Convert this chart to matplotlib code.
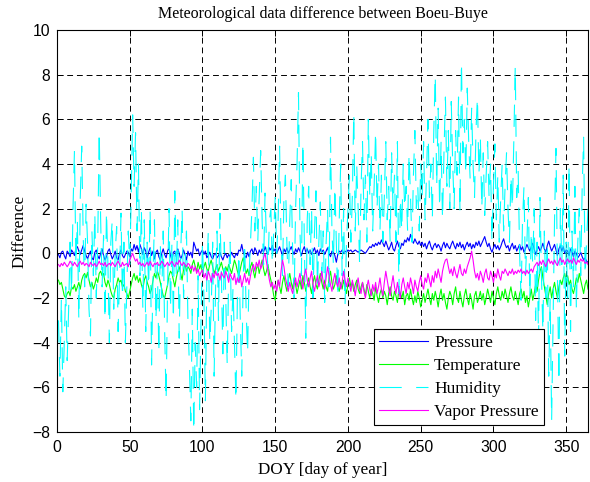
"""
Diferencia de datos meteorologicos entre Boeu y Buye (estilo MATLAB)
"""

import numpy as np
from matplotlib import pyplot as plt

# Diferencias diarias (Boeu - Buye), dias 1..365
pressure = [
    -0.05, -0.2, 0.05, 0.1, -0.1, -0.25, 0.1, 0.0, -0.15, 0.15,
    0.05, -0.1, 0.2, 0.3, 0.1, -0.05, 0.15, 0.35, 0.1, -0.1,
    -0.25, -0.05, 0.1, -0.2, -0.3, 0.05, 0.15, -0.1, -0.25, 0.0,
    0.2, -0.1, -0.3, -0.15, 0.1, 0.2, -0.05, -0.25, -0.1, 0.1,
    -0.2, -0.3, 0.0, 0.15, -0.1, -0.2, -0.05, 0.1, 0.05, -0.15,
    0.2, 0.1, 0.4, 0.15, 0.35, 0.05, 0.4, 0.2, -0.05, 0.25,
    0.1, -0.2, 0.05, 0.25, -0.1, 0.1, -0.25, 0.05, 0.15, -0.15,
    -0.3, 0.0, 0.2, -0.05, -0.2, 0.1, 0.25, -0.1, -0.3, 0.05,
    0.1, -0.15, 0.2, 0.0, -0.25, -0.1, 0.15, -0.05, -0.3, 0.1,
    -0.1, 0.05, -0.2, 0.5, 0.3, 0.1, 0.2, -0.1, 0.05, 0.15,
    -0.05, 0.1, -0.2, -0.1, 0.05, -0.15, -0.25, -0.05, 0.0, -0.2,
    -0.1, 0.05, -0.15, -0.3, -0.1, 0.0, -0.2, -0.05, -0.15, 0.05,
    -0.1, -0.2, 0.0, -0.1, 0.15, 0.1, 0.4, 0.05, -0.1, -0.2,
    0.05, -0.15, 0.1, 0.2, -0.05, 0.25, 0.1, -0.1, 0.15, 0.0,
    0.2, 0.05, 0.3, 0.1, -0.05, 0.25, 0.15, 0.35, 0.1, 0.2,
    0.0, 0.15, 0.3, 0.1, -0.1, 0.2, 0.05, 0.25, 0.0, 0.15,
    0.3, 0.1, -0.05, 0.2, 0.05, 0.25, 0.1, -0.1, 0.15, 0.3,
    0.05, 0.2, 0.0, 0.15, -0.05, 0.1, 0.25, 0.0, 0.15, -0.1,
    0.2, 0.05, 0.15, -0.05, 0.1, 0.25, 0.0, -0.15, 0.1, 0.05,
    -0.1, -0.4, -0.05, 0.1, 0.05, 0.15, 0.0, 0.1, 0.05, 0.15,
    0.1, 0.15, 0.05, 0.1, 0.15, 0.1, 0.05, 0.1, 0.15, 0.1,
    0.05, 0.0, 0.1, 0.2, 0.3, 0.25, 0.4, 0.3, 0.45, 0.35,
    0.5, 0.4, 0.6, 0.45, 0.3, 0.55, 0.35, 0.15, 0.3, 0.5,
    0.2, 0.1, 0.35, 0.55, 0.3, 0.2, 0.45, 0.35, 0.6, 0.5,
    0.7, 0.55, 0.85, 0.6, 0.45, 0.65, 0.5, 0.4, 0.55, 0.35,
    0.5, 0.3, 0.45, 0.2, 0.4, 0.55, 0.3, 0.15, 0.35, 0.45,
    0.25, 0.4, 0.3, 0.1, 0.35, 0.5, 0.25, 0.45, 0.3, 0.2,
    0.4, 0.55, 0.35, 0.2, 0.45, 0.3, 0.5, 0.25, 0.4, 0.15,
    0.35, 0.5, 0.3, 0.45, 0.2, 0.4, 0.25, 0.5, 0.35, 0.55,
    0.3, 0.45, 0.6, 0.75, 0.5, 0.3, 0.45, 0.2, 0.05, 0.25,
    0.4, 0.2, 0.35, 0.15, 0.3, 0.5, 0.65, 0.4, 0.25, 0.35,
    0.1, 0.3, 0.45, 0.2, 0.35, 0.1, 0.25, 0.4, 0.15, 0.3,
    0.05, 0.2, 0.4, 0.25, 0.1, 0.3, 0.45, 0.2, -0.05, 0.15,
    0.3, 0.1, 0.25, 0.45, 0.2, 0.05, 0.35, 0.55, 0.3, 0.1,
    0.25, 0.4, 0.15, -0.1, 0.2, 0.35, 0.1, 0.3, 0.0, 0.15,
    0.1, -0.1, 0.2, 0.05, -0.15, 0.1, 0.0, -0.2, -0.1, 0.05,
    -0.15, -0.3, -0.2, -0.35, -0.4,
]

temperature = [
    -1.2, -1.4, -1.3, -1.6, -1.9, -2.0, -1.8, -1.7, -1.9, -1.5,
    -1.6, -1.4, -1.7, -1.5, -1.3, -1.6, -1.2, -1.0, -0.9, -1.1,
    -0.85, -1.2, -1.5, -1.3, -1.6, -1.4, -1.1, -1.3, -0.9, -0.8,
    -1.0, -0.9, -1.3, -1.5, -1.2, -1.4, -1.7, -1.9, -2.0, -1.6,
    -1.4, -1.1, -1.3, -1.2, -1.5, -1.4, -1.7, -1.8, -2.0, -1.7,
    -1.4, -1.1, -0.9, -1.2, -1.0, -1.3, -1.1, -1.4, -1.6, -1.2,
    -1.0, -1.3, -1.5, -1.8, -1.6, -1.2, -0.9, -1.1, -0.8, -1.0,
    -1.3, -1.6, -1.9, -2.0, -1.7, -1.4, -1.0, -0.8, -0.9, -1.2,
    -1.5, -1.1, -0.8, -0.6, -0.9, -1.2, -0.7, -0.5, -0.8, -0.6,
    -0.7, -0.9, -0.5, -0.3, -0.6, -0.8, -0.4, -0.7, -0.5, -0.9,
    -0.6, -0.4, -0.7, -0.8, -0.5, -0.3, -0.6, -0.9, -0.7, -0.5,
    -0.8, -0.6, -0.4, -0.7, -0.9, -0.6, -0.8, -0.5, -0.7, -0.9,
    -0.6, -0.3, -0.5, -0.8, -1.0, -0.7, -0.4, -0.2, -0.6, -0.9,
    -0.7, -1.0, -0.6, -0.4, -0.8, -1.1, -0.7, -0.5, -0.9, -0.6,
    -0.3, -0.7, -1.0, -0.8, -0.5, -0.9, -1.2, -1.5, -1.9, -2.1,
    -1.6, -1.2, -1.5, -1.8, -1.3, -1.0, -1.4, -1.7, -1.2, -0.9,
    -1.3, -1.6, -1.1, -1.4, -1.8, -1.5, -1.2, -1.6, -1.0, -1.3,
    -1.7, -1.4, -1.1, -1.5, -1.8, -1.3, -1.0, -1.4, -1.6, -1.2,
    -0.9, -1.3, -1.6, -1.2, -1.5, -1.7, -1.1, -0.8, -1.3, -1.6,
    -1.4, -1.0, -1.5, -1.7, -1.3, -1.6, -1.2, -1.5, -1.8, -1.4,
    -1.1, -1.5, -1.3, -1.7, -1.4, -1.2, -1.6, -1.8, -1.5, -1.3,
    -1.6, -1.9, -1.4, -1.7, -2.0, -1.6, -1.8, -2.1, -1.5, -1.9,
    -2.2, -1.8, -1.6, -2.0, -1.7, -1.9, -2.3, -1.8, -1.5, -1.9,
    -2.1, -1.7, -1.9, -2.2, -1.6, -1.8, -2.0, -1.7, -2.3, -1.9,
    -1.8, -2.1, -1.6, -2.0, -2.3, -1.9, -2.2, -1.7, -2.0, -2.4,
    -2.1, -1.8, -2.2, -1.9, -1.6, -2.0, -2.3, -1.8, -2.1, -1.7,
    -2.0, -2.4, -1.9, -1.6, -2.1, -1.8, -2.2, -2.5, -2.0, -1.7,
    -1.9, -2.3, -1.8, -1.5, -2.0, -2.2, -1.7, -2.1, -2.4, -1.9,
    -1.6, -2.0, -2.3, -1.8, -2.1, -2.5, -1.9, -1.7, -2.2, -2.0,
    -1.7, -2.1, -1.8, -2.3, -2.0, -1.6, -1.9, -2.2, -1.7, -2.0,
    -2.3, -1.8, -1.5, -1.9, -2.1, -1.7, -2.0, -1.6, -1.9, -2.2,
    -1.8, -1.5, -1.9, -2.1, -1.7, -2.0, -2.3, -1.8, -1.6, -2.0,
    -1.7, -2.2, -1.9, -2.4, -2.0, -1.6, -2.1, -1.8, -1.4, -1.7,
    -1.2, -0.8, -0.6, -1.1, -1.5, -1.9, -2.3, -1.8, -1.5, -2.0,
    -1.6, -1.3, -1.7, -2.0, -1.5, -1.2, -1.4, -1.1, -0.9, -1.3,
    -1.0, -1.4, -1.2, -1.6, -1.8, -1.5, -1.1, -1.3, -0.9, -1.2,
    -1.5, -1.8, -1.4, -1.2, -1.6,
]

humidity = [
    -3.0, -5.5, -2.0, -6.2, -4.0, -1.5, -4.8, -2.5, 0.5, -1.8,
    2.0, 4.6, -0.5, 1.5, -3.0, 2.5, 4.8, 0.8, -1.5, 2.2,
    0.5, -2.5, -3.7, 1.0, -1.0, 1.8, -2.0, 0.5, 5.5, 1.5,
    -1.5, 0.8, -3.0, 1.9, -0.5, -4.0, 0.5, 1.5, -2.5, 0.0,
    1.2, -3.5, -1.0, 1.8, -2.0, 0.5, -4.0, -1.5, 1.0, -0.5,
    2.5, 6.2, 3.0, 5.4, 1.0, 4.0, -1.0, 2.0, -2.5, 1.5,
    -3.5, 0.5, -1.5, 2.0, -5.0, -1.0, 1.5, -3.0, -0.5, -4.5,
    0.5, -2.0, 1.0, -3.5, -6.6, -1.5, 2.0, -2.5, 0.5, -3.0,
    2.8, -1.0, 1.5, -3.8, 0.0, 2.0, -2.0, -0.5, 1.0, -3.0,
    -5.0, -7.5, -2.5, -8.0, -4.0, -6.0, -1.0, -7.0, -3.0, 0.5,
    -2.0, -6.6, -1.0, 1.0, -4.0, -2.5, 0.5, -5.5, -1.5, 1.0,
    -3.0, 1.8, -1.0, -4.5, 0.5, -2.0, -5.0, -1.0, 0.5, -3.5,
    -1.5, -4.0, -6.6, -2.0, 0.0, -3.0, -5.5, -1.0, 0.5, -2.5,
    -4.5, -1.0, 0.5, 2.0, 4.3, 1.0, 3.0, 0.5, 2.5, 4.6,
    1.5, -0.5, 2.7, 0.5, -0.7, 1.5, 2.0, -0.5, 1.0, 2.5,
    0.0, 1.5, 4.8, 0.5, -1.0, 2.5, 3.5, 0.5, -1.5, 1.5,
    3.3, 0.0, -2.0, 2.0, 4.0, 7.2, 1.0, -1.0, 5.0, 0.5,
    -3.8, 1.5, 3.0, -0.5, 2.0, -2.0, 1.0, 2.8, -1.5, 0.5,
    2.3, -1.0, 1.0, -2.2, 0.5, 2.0, -1.5, 5.2, 1.0, -0.5,
    3.0, 0.5, -2.0, 1.5, 4.0, -1.0, 2.0, -2.3, 0.5, 2.0,
    3.5, 0.5, 2.5, 6.3, 1.0, 4.0, 2.0, -0.5, 3.0, 5.0,
    1.5, 3.5, 0.5, 6.0, 2.5, 4.5, 1.0, 3.0, 5.5, 2.0,
    4.0, 1.0, 3.5, 0.5, 2.5, 5.0, 1.5, 3.0, 0.5, 4.5,
    2.0, 3.5, 0.5, 5.0, -1.8, 2.5, 1.0, 4.0, 2.0, 3.0,
    1.0, 4.5, 2.5, 0.5, 3.5, 5.5, 2.0, 3.0, 1.0, 4.0,
    2.5, 5.0, 1.5, 3.5, 6.0, 2.5, 4.0, 1.5, 5.5, 8.0,
    3.0, 6.5, 2.0, 5.0, 1.5, 4.5, 7.0, 3.0, 5.5, 2.0,
    6.8, 4.0, 2.0, 5.5, 3.5, 7.0, 1.8, 8.6, 4.5, 6.0,
    3.5, 7.4, 5.0, 3.3, 6.5, 4.0, 2.5, 5.5, 7.0, 3.5,
    5.2, 2.0, 4.5, 1.7, 3.5, 5.0, 2.5, 4.0, 0.5, 3.0,
    4.9, 1.5, 3.5, 0.5, 2.5, 4.0, 1.0, 3.0, 4.5, 2.0,
    0.5, 3.5, 2.0, 5.0, 8.4, 2.5, 3.7, 0.0, -2.1, 1.5,
    3.0, -1.0, 0.5, 2.5, -2.0, 1.0, -0.5, 2.0, -3.0, 0.5,
    -4.0, 2.5, -1.0, -3.5, 1.0, -2.0, 0.5, -5.5, -2.0, -7.5,
    -3.0, 1.5, 4.7, -1.0, -5.8, 2.0, -0.5, 3.5, -4.6, 0.5,
    -2.0, 4.0, -3.5, 1.0, -1.5, 3.0, -2.5, 0.5, 2.0, -1.0,
    3.0, 5.2, -1.0, 0.5, 2.0,
]

vapor = [
    -0.5, -0.6, -0.45, -0.55, -0.4, -0.5, -0.6, -0.5, -0.35, -0.45,
    -0.55, -0.4, -0.5, -0.6, -0.45, -0.35, -0.5, -0.4, -0.55, -0.45,
    -0.5, -0.6, -0.4, -0.5, -0.55, -0.45, -0.6, -0.5, -0.35, -0.5,
    -0.45, -0.55, -0.4, -0.6, -0.5, -0.45, -0.55, -0.4, -0.5, -0.6,
    -0.45, -0.35, -0.5, -0.6, -0.4, -0.55, -0.5, -0.45, -0.6, -0.3,
    -0.15, 0.0, -0.2, -0.35, -0.25, -0.5, -0.4, -0.55, -0.45, -0.6,
    -0.5, -0.4, -0.55, -0.35, -0.5, -0.6, -0.45, -0.5, -0.4, -0.55,
    -0.5, -0.35, -0.45, -0.6, -0.5, -0.4, -0.55, -0.45, -0.35, -0.5,
    -0.6, -0.4, -0.5, -0.3, -0.45, -0.55, -0.4, -0.5, -0.6, -0.45,
    -0.5, -0.7, -0.55, -0.8, -0.6, -0.9, -0.7, -1.0, -0.85, -0.75,
    -1.1, -0.9, -1.2, -0.8, -1.0, -1.3, -0.9, -1.1, -0.8, -1.0,
    -0.9, -1.2, -0.85, -1.0, -1.1, -0.8, -1.0, -1.3, -0.9, -1.1,
    -1.2, -0.9, -1.4, -1.1, -1.3, -1.0, -1.5, -1.2, -0.9, -1.3,
    -1.1, -1.4, -1.0, -0.7, -0.5, -0.8, -0.4, -0.6, -0.3, -0.7,
    -0.5, -0.2, 0.0, -0.4, -0.8, -1.2, -1.5, -1.3, -1.6, -1.4,
    -1.7, -1.2, -1.5, -0.8, -0.3, -0.6, -1.1, -1.4, -1.7, -1.3,
    -1.6, -1.8, -1.4, -1.1, -1.5, -1.2, -0.9, -1.3, -1.6, -1.0,
    -0.7, -1.2, -1.5, -1.1, -0.8, -1.4, -1.7, -1.3, -1.0, -1.5,
    -1.2, -0.8, -1.3, -1.6, -1.1, -0.6, -1.0, -1.4, -1.7, -1.2,
    -0.9, -1.3, -1.5, -1.1, -1.6, -1.3, -0.8, -1.2, -1.5, -1.1,
    -1.4, -1.7, -1.2, -1.5, -1.9, -1.4, -1.1, -1.6, -1.8, -1.3,
    -1.7, -2.0, -1.5, -1.2, -1.6, -1.9, -1.4, -1.7, -1.3, -1.8,
    -1.5, -1.1, -1.6, -1.9, -1.3, -0.8, -1.2, -1.6, -1.9, -1.4,
    -1.0, -1.5, -1.8, -1.3, -1.7, -2.0, -1.4, -1.1, -1.5, -1.8,
    -1.3, -1.6, -1.1, -1.4, -1.8, -1.2, -1.5, -1.7, -1.3, -1.0,
    -1.4, -1.6, -1.1, -1.3, -0.9, -1.2, -1.5, -1.0, -1.3, -0.8,
    -1.1, -0.7, -1.0, -1.3, -0.8, -0.5, -0.3, -0.25, -0.6, -0.9,
    -0.7, -1.0, -0.6, -0.9, -1.1, -0.8, -0.5, -0.9, -1.0, -0.7,
    -0.9, -0.6, -0.4, -0.2, 0.1, -0.3, -0.8, -1.1, -0.9, -1.2,
    -0.8, -1.0, -1.3, -0.9, -0.7, -1.1, -1.2, -0.8, -1.0, -1.3,
    -0.9, -1.1, -0.7, -1.0, -1.2, -0.8, -0.9, -0.7, -0.85, -1.0,
    -0.8, -0.9, -0.7, -0.95, -0.8, -0.9, -0.75, -0.85, -0.7, -0.9,
    -0.8, -0.95, -0.75, -0.9, -0.8, -0.7, -0.85, -0.6, -0.5, -0.4,
    -0.55, -0.35, -0.5, -0.3, -0.45, -0.6, -0.4, -0.25, -0.45, -0.35,
    -0.5, -0.3, -0.45, -0.55, -0.35, -0.2, -0.4, -0.3, -0.5, -0.35,
    -0.25, -0.4, -0.3, -0.45, -0.2, -0.35, -0.5, -0.3, -0.4, -0.25,
    -0.35, -0.3, -0.45, -0.4, -0.5,
]

labels = ['Pressure', 'Temperature', 'Humidity', 'Vapor Pressure']
xticks = np.arange(0, 351, 50)
yticks = np.arange(-8, 11, 2)

serif = 'Liberation Serif'
sans = 'Liberation Sans'

# Figura
fig = plt.figure(figsize=(5.9, 4.82), dpi=100)
ax = fig.add_axes([57/590, 50/482, 531/590, 402/482])

lw = 0.8
ax.plot(np.arange(1, len(pressure)+1), pressure, color=(0, 0, 1), lw=lw, label=labels[0])
ax.plot(np.arange(1, len(temperature)+1), temperature, color=(0, 1, 0), lw=lw, label=labels[1])
ax.plot(np.arange(1, len(humidity)+1), humidity, color=(0, 1, 1), lw=lw,
        linestyle=(0, (20, 13)), label=labels[2])
ax.plot(np.arange(1, len(vapor)+1), vapor, color=(1, 0, 1), lw=lw, label=labels[3])

# Ejes
ax.set_xlim(0, 365)
ax.set_ylim(-8, 10)
ax.set_xticks(xticks)
ax.set_yticks(yticks)
ax.grid(True, color='black', linestyle=(0, (6, 4)), linewidth=0.7)
ax.set_axisbelow(True)
ax.tick_params(direction='in', length=4, width=0.7, top=True, right=True,
               labelsize=11.3)
ax.tick_params(axis='x', pad=6)
ax.tick_params(axis='y', pad=5)
for lab in ax.get_xticklabels() + ax.get_yticklabels():
    lab.set_family(sans)
for s in ax.spines.values():
    s.set_linewidth(0.8)

ax.set_title('Meteorological data difference between Boeu-Buye',
             fontsize=11.5, family=serif, pad=9)
ax.set_xlabel('DOY [day of year]', fontsize=12.3, family=serif, labelpad=5)
ax.set_ylabel('Difference', fontsize=12.3, family=serif, labelpad=3)

leg = ax.legend(loc='lower right', bbox_to_anchor=(0.917, 0.017), borderaxespad=0,
                fancybox=False, edgecolor='black', framealpha=1,
                prop={'family': serif, 'size': 12.5}, handlelength=2.8,
                handletextpad=0.35, labelspacing=0.4, borderpad=0.3)
leg.get_frame().set_linewidth(0.8)

plt.savefig('out.png', dpi=100)
